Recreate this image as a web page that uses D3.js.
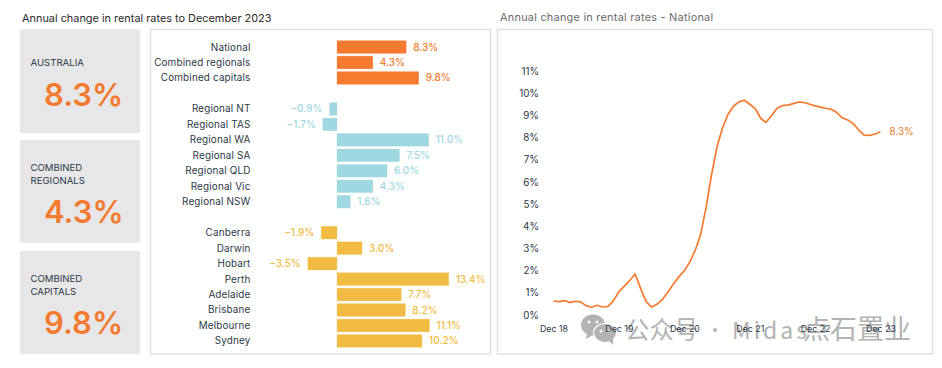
<!DOCTYPE html>
<html lang="en">
<head>
    <meta charset="UTF-8">
    <title>Annual change in rental rates</title>
    <script src="https://d3js.org/d3.v7.min.js"></script>
    <style>
        html, body { margin: 0; padding: 0; background: #fff; overflow: hidden; }
        text { font-family: Inter, "Open Sans", sans-serif; }
    </style>
</head>
<body>
    <svg id="chart" width="942" height="368"></svg>

    <script>
        // Headline boxes
        const statLabels = [['AUSTRALIA'], ['COMBINED', 'REGIONALS'], ['COMBINED', 'CAPITALS']];
        const statValues = ['8.3%', '4.3%', '9.8%'];

        // Bar rows, the blank names are the gaps between groups
        const barNames = ['National', 'Combined regionals', 'Combined capitals', ' ',
            'Regional NT', 'Regional TAS', 'Regional WA', 'Regional SA', 'Regional QLD', 'Regional Vic', 'Regional NSW', '  ',
            'Canberra', 'Darwin', 'Hobart', 'Perth', 'Adelaide', 'Brisbane', 'Melbourne', 'Sydney'];
        const barValues = [8.3, 4.3, 9.8, null,
            -0.9, -1.7, 11.0, 7.5, 6.0, 4.3, 1.6, null,
            -1.9, 3.0, -3.5, 13.4, 7.7, 8.2, 11.1, 10.2];
        const barGroups = ['a', 'a', 'a', null,
            'b', 'b', 'b', 'b', 'b', 'b', 'b', null,
            'c', 'c', 'c', 'c', 'c', 'c', 'c', 'c'];

        // National series, monthly Dec 18 to Dec 23
        const nationalRates = [0.63, 0.60, 0.65, 0.56, 0.62, 0.59, 0.42, 0.35, 0.44, 0.36, 0.39, 0.65,
            1.05, 1.30, 1.57, 1.85, 1.19, 0.60, 0.36, 0.48, 0.71, 1.05, 1.40, 1.73,
            2.00, 2.40, 2.95, 3.60, 4.85, 6.30, 7.58, 8.41, 9.04, 9.41, 9.61, 9.68,
            9.50, 9.30, 8.86, 8.68, 8.98, 9.31, 9.44, 9.46, 9.53, 9.60, 9.58, 9.50,
            9.43, 9.37, 9.31, 9.28, 9.13, 8.89, 8.79, 8.64, 8.34, 8.11, 8.10, 8.16, 8.26];
        const yTicks = [0, 1, 2, 3, 4, 5, 6, 7, 8, 9, 10, 11];
        const xTickYears = [2018, 2019, 2020, 2021, 2022, 2023];

        const orange = '#f47a2f';
        const barColor = d3.scaleOrdinal().domain(['a', 'b', 'c']).range([orange, '#9fd8e0', '#f2bb43']);
        const inkColor = '#2c3847';

        const svg = d3.select('#chart');

        // Titles
        svg.append('text').attr('x', 22).attr('y', 22)
            .attr('font-size', 10.9).attr('fill', '#2a2a2a')
            .text('Annual change in rental rates to December 2023');
        svg.append('text').attr('x', 500).attr('y', 21)
            .attr('font-size', 10.9).attr('letter-spacing', 0.25).attr('fill', '#6b6b6b')
            .text('Annual change in rental rates - National');

        // Headline boxes
        const statBoxes = [{ y: 29, h: 104 }, { y: 140, h: 103 }, { y: 251, h: 103 }];
        const stats = svg.selectAll('.stat').data(statBoxes).enter().append('g')
            .attr('class', 'stat')
            .attr('transform', d => `translate(20,${d.y})`);
        stats.append('rect').attr('width', 120).attr('height', d => d.h).attr('fill', '#e7e7e9');
        stats.each(function (d, i) {
            const g = d3.select(this);
            const lines = statLabels[i];
            lines.forEach((line, j) => {
                g.append('text').attr('x', 10.5).attr('y', (i === 0 ? 37 : 31) + j * 13)
                    .attr('font-size', 9.6).attr('fill', inkColor).text(line);
            });
            g.append('text').attr('x', 24).attr('y', i === 0 ? 77 : 83)
                .attr('font-size', 31).attr('font-weight', 600).attr('fill', orange)
                .text(statValues[i]);
        });

        // Bar panel
        svg.append('rect').attr('x', 150.5).attr('y', 29.5).attr('width', 340).attr('height', 324.5)
            .attr('fill', 'none').attr('stroke', '#dfdfdf').attr('stroke-width', 1.4);

        const xBar = d3.scaleLinear().domain([0, 13.4]).range([337, 448.7]);
        const yBar = d3.scaleBand().domain(barNames).range([39.3, 348.7]).paddingInner(0.18).paddingOuter(0.09);
        const barRows = barNames.map((name, i) => ({ name, value: barValues[i], group: barGroups[i] }))
            .filter(d => d.value !== null);

        svg.selectAll('.bar').data(barRows).enter().append('rect')
            .attr('class', 'bar')
            .attr('x', d => xBar(Math.min(0, d.value)))
            .attr('y', d => yBar(d.name))
            .attr('width', d => Math.abs(xBar(d.value) - xBar(0)))
            .attr('height', yBar.bandwidth())
            .attr('fill', d => barColor(d.group))
            .attr('stroke', d => barColor(d.group))
            .attr('stroke-opacity', 0.3)
            .attr('stroke-width', 0.8);

        svg.selectAll('.bar-name').data(barRows).enter().append('text')
            .attr('class', 'bar-name')
            .attr('x', 250.5)
            .attr('y', d => yBar(d.name) + yBar.bandwidth() / 2)
            .attr('dy', '0.35em')
            .attr('text-anchor', 'end')
            .attr('font-size', 9.9)
            .attr('letter-spacing', 0.17)
            .attr('fill', inkColor)
            .text(d => d.name);

        svg.selectAll('.bar-value').data(barRows).enter().append('text')
            .attr('class', 'bar-value')
            .attr('x', d => d.value < 0 ? xBar(d.value) - 7 : xBar(d.value) + 7)
            .attr('y', d => yBar(d.name) + yBar.bandwidth() / 2)
            .attr('dy', '0.35em')
            .attr('text-anchor', d => d.value < 0 ? 'end' : 'start')
            .attr('font-size', 10)
            .attr('font-weight', 500)
            .attr('fill', d => barColor(d.group))
            .text(d => (d.value < 0 ? '\u2212' + Math.abs(d.value).toFixed(1) : d.value.toFixed(1)) + '%');

        // Line panel
        svg.append('rect').attr('x', 497.5).attr('y', 29.5).attr('width', 435).attr('height', 324.5)
            .attr('fill', 'none').attr('stroke', '#dfdfdf').attr('stroke-width', 1.4);

        // Watermark
        const mark = svg.append('g').attr('class', 'watermark');
        mark.append('ellipse').attr('cx', 593).attr('cy', 325).attr('rx', 12).attr('ry', 10.5).attr('fill', '#b3b3b3');
        mark.append('path').attr('d', 'M587 333 L586 339 L593 335 Z').attr('fill', '#b3b3b3');
        mark.append('ellipse').attr('cx', 605).attr('cy', 333).attr('rx', 11.5).attr('ry', 9.5)
            .attr('fill', '#b3b3b3').attr('stroke', '#fff').attr('stroke-width', 1.2);
        mark.append('path').attr('d', 'M609 341 L613 345 L613 338 Z').attr('fill', '#b3b3b3');
        [[589, 322], [597, 322], [601, 331], [609, 331]].forEach(p => {
            mark.append('circle').attr('cx', p[0]).attr('cy', p[1]).attr('r', 1.5).attr('fill', '#fff');
        });
        const markFont = '"Noto Sans CJK SC", sans-serif';
        mark.append('text').attr('x', 625).attr('y', 339).attr('font-size', 24.5)
            .attr('fill', '#b3b3b3').style('font-family', markFont).text('公众号');
        mark.append('circle').attr('cx', 715).attr('cy', 330).attr('r', 2).attr('fill', '#b3b3b3');
        mark.append('text').attr('x', 732).attr('y', 339).attr('font-size', 23)
            .attr('letter-spacing', 3).attr('fill', '#b3b3b3').style('font-family', markFont).text('Midas');
        mark.append('text').attr('x', 803).attr('y', 339).attr('font-size', 27)
            .attr('fill', '#b3b3b3').style('font-family', markFont).text('点石置业');

        // Line chart
        const months = d3.timeMonth.range(new Date(2018, 11, 1), new Date(2024, 0, 1));
        const xLine = d3.scaleTime().domain(d3.extent(months)).range([553.5, 880.5]);
        const yLine = d3.scaleLinear().domain([0, 11]).range([315, 71]);

        const line = d3.line()
            .x((d, i) => xLine(months[i]))
            .y(d => yLine(d));

        svg.append('g')
            .attr('transform', 'translate(539,0)')
            .call(d3.axisLeft(yLine).tickValues(yTicks).tickFormat(d => d + '%').tickSize(0).tickPadding(0))
            .call(g => g.select('.domain').remove())
            .call(g => g.selectAll('text').attr('font-size', 9.8).attr('fill', inkColor)
                .style('font-family', 'Inter, sans-serif'));

        svg.append('g')
            .attr('transform', 'translate(0,326)')
            .call(d3.axisBottom(xLine)
                .tickValues(xTickYears.map(y => new Date(y, 11, 1)))
                .tickFormat(d3.timeFormat('Dec %y')).tickSize(0).tickPadding(0))
            .call(g => g.select('.domain').remove())
            .call(g => g.selectAll('text').attr('font-size', 8.8).attr('fill', inkColor)
                .style('font-family', 'Inter, sans-serif'));

        svg.append('path').datum(nationalRates)
            .attr('fill', 'none').attr('stroke', orange).attr('stroke-width', 1.7)
            .attr('stroke-linejoin', 'round')
            .attr('d', line);

        svg.append('text')
            .attr('x', xLine(months[months.length - 1]) + 9)
            .attr('y', yLine(nationalRates[nationalRates.length - 1]))
            .attr('dy', '0.35em')
            .attr('font-size', 9.8).attr('fill', orange)
            .text('8.3%');
    </script>
</body>
</html>
